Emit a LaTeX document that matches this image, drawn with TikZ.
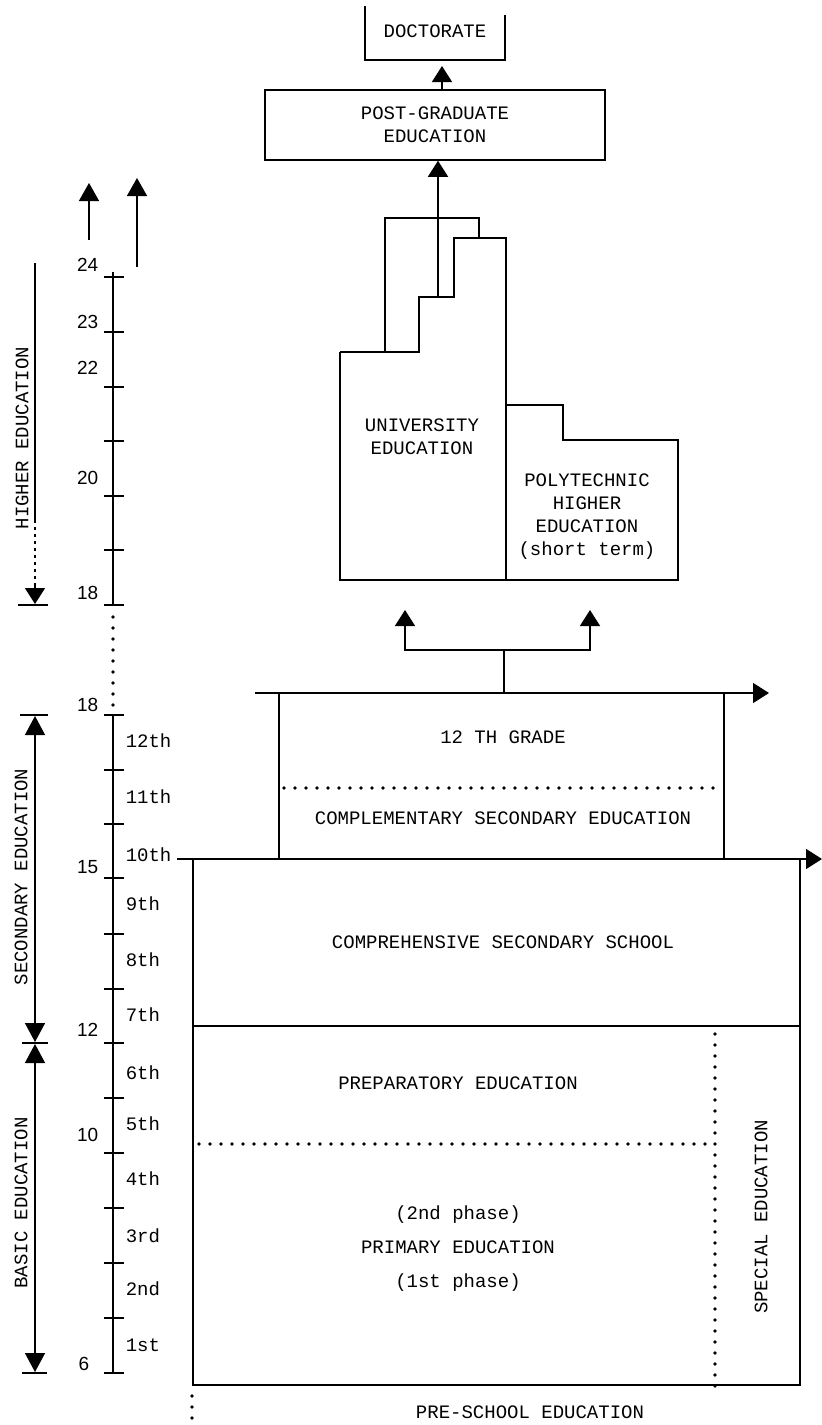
\documentclass[tikz,border=0pt]{standalone}
\usepackage{fontspec}
\setmainfont{Liberation Mono}
\newfontfamily\numfont{Liberation Sans}
\usetikzlibrary{arrows.meta}
\begin{document}
\begin{tikzpicture}[x=1pt,y=-1pt,line width=1.5pt,
  lbl/.style={font=\fontsize{19}{23}\selectfont,inner sep=0pt,align=center},
  lblwide/.style={font=\fontsize{19}{34}\selectfont,inner sep=0pt,align=center},
  num/.style={font=\numfont\fontsize{19}{20}\selectfont,inner sep=0pt,anchor=east},
  grade/.style={font=\fontsize{19}{20}\selectfont,inner sep=0pt,anchor=west},
  dotline/.style={line width=3.6pt,dash pattern=on 0pt off 11pt,line cap=round},
  tip/.style={-{Triangle[length=16pt,width=20pt]}},
  tiptall/.style={-{Triangle[length=18pt,width=20pt]}},
  dbl/.style={{Triangle[length=19pt,width=20pt]}-{Triangle[length=19pt,width=20pt]}},
  tickmark/.style={line width=1.5pt}]
\useasboundingbox (0,0) rectangle (822,1425);

% ---------- top: doctorate and post-graduate ----------
\node[lbl] (doc) at (435,31) {DOCTORATE};
\draw (365,6) -- (365,60) -- (505,60) -- (505,15);
\coordinate (docbase) at (442,66);
\node[lbl,draw,line width=1.5pt,minimum width=340pt,minimum height=70pt,inner sep=0pt] (pg) at (435,125) {POST-GRADUATE\\EDUCATION};
\draw[tip] (pg.north -| docbase) -- (docbase);

% ---------- university / polytechnic ----------
\coordinate (stairtop) at (438,297);
\draw (385,352) -- (385,218) -- (479,218) -- (479,238);
\draw (340,352) -- (419,352) -- (419,297) -- (454,297) -- (454,238) -- (506,238) -- (506,580);
\draw (340,352) -- (340,580) -- (678,580) -- (678,440) -- (563,440) -- (563,405) -- (506,405);
\draw[tip] (stairtop) -- (stairtop |- pg.south);
\node[lbl] (univ) at (422,437) {UNIVERSITY\\EDUCATION};
\node[lbl] (poly) at (587,517) {POLYTECHNIC\\HIGHER\\EDUCATION\\(short term)};

% ---------- branch arrows ----------
\coordinate (br) at (504,650);
\coordinate (brL) at (405,610);
\coordinate (brR) at (590,610);
\coordinate (g12top) at (504,693);
\draw (g12top) -- (br);
\draw[tip] (br) -| (brL);
\draw[tip] (br) -| (brR);

% ---------- 12th grade / complementary ----------
\coordinate (l12s) at (255,693);
\coordinate (l12e) at (769,693);
\draw[tip] (l12s) -- (l12e);
\draw (279,693) -- (279,859);
\draw (724,693) -- (724,859);
\draw[dotline] (284,788) -- (724,788);
\node[lbl] (g12) at (503,737) {12 TH GRADE};
\node[lbl] (compl) at (503,818) {COMPLEMENTARY SECONDARY EDUCATION};

% ---------- comprehensive / basic ----------
\coordinate (l10s) at (177,859);
\coordinate (l10e) at (822,859);
\draw[tip] (l10s) -- (l10e);
\draw (193,859) -- (193,1385) -- (800,1385) -- (800,859);
\draw (193,1026) -- (800,1026);
\node[lbl] (css) at (503,942) {COMPREHENSIVE SECONDARY SCHOOL};
\draw[dotline] (715,1034) -- (715,1392);
\draw[dotline] (199,1144) -- (715,1144);
\node[lbl] (prep) at (458,1083) {PREPARATORY EDUCATION};
\node[lblwide] (prim) at (458,1249) {(2nd phase)\\PRIMARY EDUCATION\\(1st phase)};
\node[lbl,rotate=90] (spec) at (761,1217) {SPECIAL EDUCATION};
\node[lbl] (pre) at (530,1412) {PRE-SCHOOL EDUCATION};
\draw[dotline] (192,1396) -- (192,1425);

% ---------- left age scale ----------
\draw (113,272) -- (113,605);
\foreach \yy in {277,332,387,441,496,550,605} \draw[tickmark] (104,\yy) -- (124,\yy);
\draw[dotline] (113,617) -- (113,706);
\draw (113,715) -- (113,1373);
\foreach \yy in {715,770,824,878,934,989,1043,1098,1153,1208,1263,1318,1373} \draw[tickmark] (104,\yy) -- (124,\yy);

\node[num] (a24) at (99,265) {24};
\node[num] (a23) at (99,322) {23};
\node[num] (a22) at (99,368) {22};
\node[num] (a20) at (99,478) {20};
\node[num] (a18h) at (99,593) {18};
\node[num] (a18s) at (99,705) {18};
\node[num] (a15) at (99,867) {15};
\node[num] (a12) at (99,1030) {12};
\node[num] (a10) at (99,1135) {10};
\node[num] (a6) at (90,1364) {6};

\node[grade] (g12th) at (125,741) {12th};
\node[grade] (g11th) at (125,797) {11th};
\node[grade] (g10th) at (125,855) {10th};
\node[grade] (g9th) at (125,904) {9th};
\node[grade] (g8th) at (125,960) {8th};
\node[grade] (g7th) at (125,1015) {7th};
\node[grade] (g6th) at (125,1073) {6th};
\node[grade] (g5th) at (125,1124) {5th};
\node[grade] (g4th) at (125,1179) {4th};
\node[grade] (g3rd) at (125,1236) {3rd};
\node[grade] (g2nd) at (125,1289) {2nd};
\node[grade] (g1st) at (125,1345) {1st};

% top arrows
\coordinate (ta1s) at (89,240);
\coordinate (ta1e) at (89,183);
\coordinate (ta2s) at (137,267);
\coordinate (ta2e) at (137,178);
\draw[tiptall] (ta1s) -- (ta1e);
\draw[tiptall] (ta2s) -- (ta2e);

% ---------- level brackets ----------
\node[lbl,rotate=90] (hed) at (22,438) {HIGHER EDUCATION};
\draw (35,263) -- (35,520);
\draw[line width=1.5pt,dash pattern=on 3pt off 4pt] (35,520) -- (35,586);
\draw[tip] (35,586) -- (35,604);
\draw (18,605) -- (48,605);

\node[lbl,rotate=90] (sed) at (21,877) {SECONDARY EDUCATION};
\draw (20,715) -- (48,715);
\draw[dbl] (35,716) -- (35,1042);
\draw (22,1043) -- (48,1043);

\node[lbl,rotate=90] (bed) at (21,1203) {BASIC EDUCATION};
\draw[dbl] (35,1044) -- (35,1372);
\draw (22,1373) -- (47,1373);
\end{tikzpicture}
\end{document}
